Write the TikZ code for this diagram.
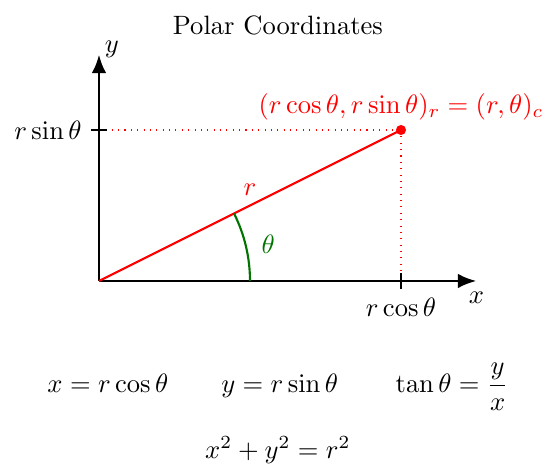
\documentclass[tikz,border=0pt]{standalone}
\usepackage{amsmath}
\usetikzlibrary{arrows.meta}
\begin{document}
\begin{tikzpicture}[x=2cm,y=2cm,
  axis/.style={line width=1.1pt,-{Latex[length=7pt,width=5.5pt]}},
  tickmark/.style={line width=0.9pt},
  guide/.style={red,dotted,thin},
  ray/.style={red,line width=0.8pt},
  anglearc/.style={green!45!black,line width=0.8pt}]
\useasboundingbox (-0.6556,-1.2185) rectangle (2.9603,1.8609);
\coordinate (O) at (0,0);
\coordinate (P) at (2,1);
\coordinate (XE) at (2.5,0);
\coordinate (YE) at (0,1.5);
\coordinate (XT) at (2,0);
\coordinate (YT) at (0,1);
\node (title) at (1.185,1.69) {Polar Coordinates};
\draw[guide] (YT) -- (P);
\draw[guide] (P) -- (XT);
\draw[axis] (O) -- (XE);
\draw[axis] (O) -- (YE);
\node[below,inner sep=4pt] (xl) at (XE) {$x$};
\node[right,inner sep=2pt,yshift=2pt] (yl) at (YE) {$y$};
\draw[tickmark] ([yshift=-3pt]XT) -- ([yshift=3pt]XT);
\draw[tickmark] ([xshift=-3pt]YT) -- ([xshift=3pt]YT);
\node[below=3pt] (xc) at (XT) {$r\cos\theta$};
\node[left=3pt] (ys) at (YT) {$r\sin\theta$};
\draw[ray] (O) -- node[above] (rl) {$r$} (P);
\draw[anglearc] (1,0) arc[start angle=0,end angle=26.565,radius=1];
\node[green!45!black] (th) at (1.12,0.24) {$\theta$};
\fill[red] (P) circle[radius=1.9pt];
\node[red,above=0pt] (pl) at (P) {$(r\cos\theta, r\sin\theta)_r = (r,\theta)_c$};
\node (eq1) at (1.185,-0.70) {$x = r\cos\theta \qquad y = r\sin\theta \qquad \tan\theta = \dfrac{y}{x}$};
\node (eq2) at (1.185,-1.12) {$x^2 + y^2 = r^2$};
\end{tikzpicture}
\end{document}
